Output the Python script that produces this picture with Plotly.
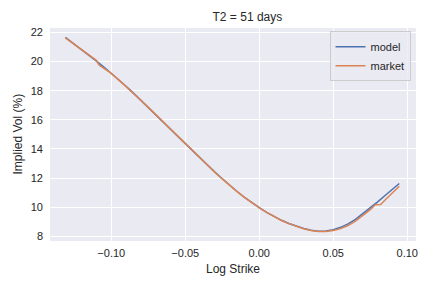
import plotly.graph_objects as go

model_x = [-0.131, -0.125, -0.12, -0.115, -0.11, -0.105, -0.10, -0.095, -0.09, -0.085, -0.08,
           -0.075, -0.07, -0.065, -0.06, -0.055, -0.05, -0.045, -0.04, -0.035, -0.03, -0.025,
           -0.02, -0.015, -0.01, -0.005, 0.0, 0.005, 0.01, 0.015, 0.02, 0.025, 0.03, 0.035,
           0.04, 0.045, 0.05, 0.055, 0.06, 0.065, 0.07, 0.075, 0.08, 0.085, 0.09, 0.0946]
model_vol = [21.65, 21.2, 20.83, 20.45, 20.03, 19.62, 19.2, 18.75, 18.3, 17.83, 17.35,
             16.86, 16.36, 15.86, 15.36, 14.86, 14.36, 13.86, 13.37, 12.88, 12.41, 11.95,
             11.5, 11.08, 10.68, 10.31, 9.97, 9.65, 9.36, 9.1, 8.88, 8.7, 8.54, 8.42,
             8.35, 8.37, 8.46, 8.62, 8.85, 9.17, 9.55, 9.95, 10.37, 10.8, 11.23, 11.63]

market_x = [-0.131, -0.125, -0.12, -0.115, -0.1103, -0.1081, -0.105, -0.10, -0.095, -0.09, -0.085, -0.08,
            -0.075, -0.07, -0.065, -0.06, -0.055, -0.05, -0.045, -0.04, -0.035, -0.03, -0.025,
            -0.02, -0.015, -0.01, -0.005, 0.0, 0.005, 0.01, 0.015, 0.02, 0.025, 0.03, 0.035,
            0.04, 0.045, 0.05, 0.055, 0.06, 0.065, 0.07, 0.075, 0.0784, 0.082, 0.085, 0.09, 0.0946]
market_vol = [21.62, 21.18, 20.82, 20.45, 20.1, 19.75, 19.55, 19.18, 18.74, 18.29, 17.82, 17.34,
              16.85, 16.35, 15.85, 15.35, 14.85, 14.35, 13.85, 13.36, 12.87, 12.4, 11.94,
              11.49, 11.07, 10.67, 10.3, 9.96, 9.64, 9.35, 9.09, 8.87, 8.69, 8.52, 8.4,
              8.33, 8.33, 8.4, 8.53, 8.74, 9.04, 9.42, 9.83, 10.17, 10.19, 10.5, 10.97, 11.44]

x_ticks = [-0.10, -0.05, 0.00, 0.05, 0.10]
y_ticks = [8, 10, 12, 14, 16, 18, 20, 22]

FONT = "Liberation Sans, Arial, sans-serif"
W, H = 432, 288
L, R, T, B = 50, 16, 28, 47

fig = go.Figure()
fig.add_trace(go.Scatter(x=model_x, y=model_vol, mode="lines", name="model",
                         line=dict(color="#4C72B0", width=1.5)))
fig.add_trace(go.Scatter(x=market_x, y=market_vol, mode="lines", name="market",
                         line=dict(color="#DD8452", width=1.5)))

fig.update_layout(
    width=W, height=H,
    margin=dict(l=L, r=R, t=T, b=B, autoexpand=False),
    paper_bgcolor="white",
    plot_bgcolor="#EAEAF2",
    font=dict(family=FONT, size=11, color="#262626"),
    title=dict(text="T2 = 51 days", x=(L + (W - R)) / 2 / W, xanchor="center", xref="paper",
               y=1 - 17 / H, yanchor="middle", font=dict(size=12, color="#262626")),
    showlegend=True,
    legend=dict(x=0.985, y=0.985, xanchor="right", yanchor="top",
                bgcolor="rgba(234,234,242,0.8)", bordercolor="#CCCCCC", borderwidth=1,
                font=dict(size=11), itemwidth=30, tracegroupgap=0),
    xaxis=dict(range=[-0.1414, 0.1059], tickvals=x_ticks, tickformat=".2f",
               showgrid=True, gridcolor="white", gridwidth=1, zeroline=False,
               showline=False, ticks="", ticklen=0, automargin=False,
               ticklabelstandoff=4),
    yaxis=dict(range=[7.68, 22.30], tickvals=y_ticks,
               showgrid=True, gridcolor="white", gridwidth=1, zeroline=False,
               showline=False, ticks="", ticklen=0, automargin=False,
               ticklabelstandoff=6),
    annotations=[
        dict(text="Log Strike", xref="paper", yref="paper",
             x=0.5, y=-(269 - (H - B)) / (H - T - B), xanchor="center", yanchor="middle",
             showarrow=False, font=dict(size=12)),
        dict(text="Implied Vol (%)", xref="paper", yref="paper",
             x=-(L - 17) / (W - L - R), y=0.5, xanchor="center", yanchor="middle",
             textangle=-90, showarrow=False, font=dict(size=12)),
    ],
)

fig.write_html("out.html", config={"displayModeBar": False},
               post_script="document.body.style.margin='0';document.body.style.overflow='hidden';")
